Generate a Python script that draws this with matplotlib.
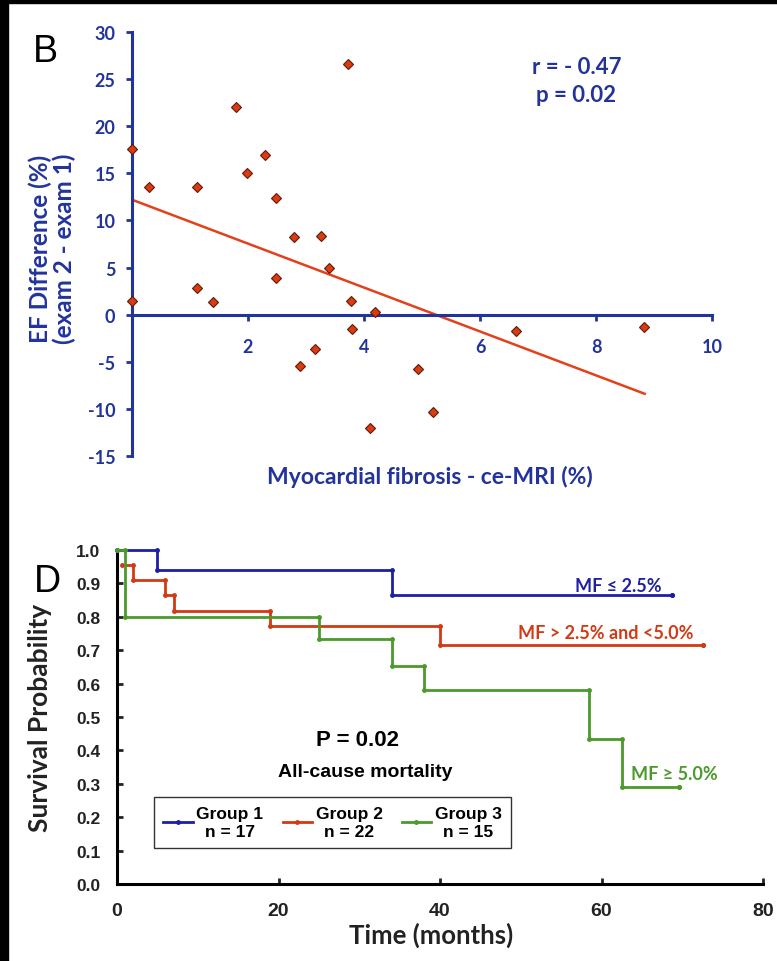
import matplotlib
matplotlib.use("Agg")
import matplotlib.pyplot as plt
from matplotlib.patches import Rectangle
from matplotlib.ticker import FormatStrFormatter

plt.rcParams["axes.unicode_minus"] = False

# panel B: change in EF vs myocardial fibrosis
fib_pct = [0.0, 0.29, 1.12, 1.79, 1.98, 2.29, 2.48, 3.72, 2.79, 3.26,
           0.0, 1.12, 1.40, 2.48, 3.40, 3.78, 4.19, 3.79, 2.90, 3.16, 4.10,
           4.93, 5.19, 6.62, 8.83]
ef_diff = [17.6, 13.5, 13.5, 22.0, 15.0, 16.9, 12.4, 26.6, 8.2, 8.4,
           1.4, 2.8, 1.3, 3.9, 5.0, 1.4, 0.3, -1.5, -5.4, -3.6, -12.0,
           -5.8, -10.3, -1.7, -1.3]
fit_x = [0.0, 8.84]
fit_y = [12.2, -8.4]
b_xticks = [2, 4, 6, 8, 10]
b_yticks = [-15, -10, -5, 0, 5, 10, 15, 20, 25, 30]

# panel D: Kaplan-Meier curves
g1_time = [0, 5, 34, 68.7]
g1_surv = [1.0, 0.941, 0.865, 0.865]
g2_time = [0.6, 2, 6, 7, 19, 40, 72.6]
g2_surv = [0.955, 0.909, 0.864, 0.818, 0.773, 0.716, 0.716]
g3_time = [0, 1, 25, 34, 38, 58.5, 62.5, 69.6]
g3_surv = [1.0, 0.80, 0.733, 0.653, 0.58, 0.435, 0.29, 0.29]
group_labels = ["Group 1\nn = 17", "Group 2\nn = 22", "Group 3\nn = 15"]
d_xticks = [0, 20, 40, 60, 80]
d_yticks = [0.0, 0.1, 0.2, 0.3, 0.4, 0.5, 0.6, 0.7, 0.8, 0.9, 1.0]

BLUE = "#22339c"
HUM = ["Lato", "DejaVu Sans"]
ARIAL = ["Liberation Sans", "DejaVu Sans"]


def km_path(t, s):
    xs, ys = [t[0]], [s[0]]
    for i in range(1, len(t)):
        xs += [t[i], t[i]]
        ys += [s[i - 1], s[i]]
    return xs, ys


W, H = 777, 962
fig = plt.figure(figsize=(W / 100, H / 100), dpi=100, facecolor="white")
# black frame strips of the scanned figure
fig.patches.append(Rectangle((0, 0), 7.5 / W, 1, transform=fig.transFigure, color="black"))
fig.patches.append(Rectangle((0, 1 - 4 / H), 1, 4 / H, transform=fig.transFigure, color="black"))

# ---------------- panel B ----------------
axB = fig.add_axes([132 / W, 1 - 457 / H, 580 / W, 424 / H])
axB.plot(fit_x, fit_y, color="#e2411c", lw=1.8, zorder=2)
axB.plot(fib_pct, ef_diff, ls="none", marker="D", ms=5.3, mfc="#dc3a10",
         mec="#5c1c0c", mew=0.8, zorder=3, clip_on=False)
axB.set_xlim(0, 10)
axB.set_ylim(-15, 30)
for side in ["top", "right"]:
    axB.spines[side].set_visible(False)
axB.spines["bottom"].set_position(("data", 0))
for side in ["left", "bottom"]:
    axB.spines[side].set_color(BLUE)
    axB.spines[side].set_linewidth(2.2)
axB.set_xticks(b_xticks)
axB.set_yticks(b_yticks)
axB.tick_params(axis="both", colors=BLUE, width=2, length=4, direction="out",
                labelsize=13)
axB.tick_params(axis="x", pad=13)
axB.tick_params(axis="y", pad=8)
for lab in axB.get_xticklabels() + axB.get_yticklabels():
    lab.set_family(HUM)
    lab.set_fontweight("bold")
axB.set_ylabel("EF Difference (%)\n(exam 2 - exam 1)", color=BLUE, fontsize=17.5,
               fontweight="bold", family=HUM, linespacing=1.0)
axB.yaxis.set_label_coords(-0.097, 0.49)
axB.set_xlabel("Myocardial fibrosis - ce-MRI (%)", color=BLUE, fontsize=16.5,
               fontweight="bold", family=HUM)
axB.xaxis.set_label_coords(0.514, -0.02)
axB.text(7.67, 26.3, "r = - 0.47", color=BLUE, fontsize=16, fontweight="bold",
         family=HUM, ha="center", va="center")
axB.text(7.66, 23.4, "p = 0.02", color=BLUE, fontsize=16, fontweight="bold",
         family=HUM, ha="center", va="center")
fig.text(45 / W, 1 - 52 / H, "B", fontsize=27, family=ARIAL, ha="center", va="center")

# ---------------- panel D ----------------
axD = fig.add_axes([117 / W, 1 - 885 / H, 646 / W, 334 / H])
colors = ["#1f1fa3", "#d23a14", "#4b9a2c"]
lines = []
for (t, s), c, lab in zip([(g1_time, g1_surv), (g2_time, g2_surv), (g3_time, g3_surv)],
                          colors, group_labels):
    xs, ys = km_path(t, s)
    ln, = axD.plot(xs, ys, color=c, lw=2, marker="o", ms=2.5, clip_on=False,
                   label=lab, zorder=3)
    lines.append(ln)
axD.set_xlim(0, 80)
axD.set_ylim(0, 1.0)
for side in ["top", "right"]:
    axD.spines[side].set_visible(False)
for side in ["left", "bottom"]:
    axD.spines[side].set_linewidth(2.2)
axD.set_xticks(d_xticks)
axD.set_yticks(d_yticks)
axD.yaxis.set_major_formatter(FormatStrFormatter("%.1f"))
axD.tick_params(axis="both", direction="in", width=2, length=4, colors="#222222")
axD.tick_params(axis="x", pad=13, labelsize=14)
axD.tick_params(axis="y", pad=12, labelsize=12.5)
for lab in axD.get_xticklabels() + axD.get_yticklabels():
    lab.set_family(ARIAL)
    lab.set_fontweight("bold")
axD.set_ylabel("Survival Probability", fontsize=19, fontweight="bold", family=HUM,
               color="#222222")
axD.yaxis.set_label_coords(-0.1, 0.5)
axD.set_xlabel("Time (months)", fontsize=18.5, fontweight="bold", family=HUM,
               color="#222222")
axD.xaxis.set_label_coords(0.487, -0.112)

axD.text(67.5, 0.895, "MF \u2264 2.5%", color=colors[0], fontsize=13,
         fontweight="bold", family=HUM, ha="right", va="center")
axD.text(71.4, 0.752, "MF > 2.5% and <5.0%", color=colors[1], fontsize=13,
         fontweight="bold", family=HUM, ha="right", va="center")
axD.text(63.6, 0.33, "MF \u2265 5.0%", color=colors[2], fontsize=13,
         fontweight="bold", family=HUM, ha="left", va="center")
axD.text(29.8, 0.434, "P = 0.02", fontsize=16, fontweight="bold", family=ARIAL,
         ha="center", va="center")
axD.text(30.7, 0.338, "All-cause mortality", fontsize=14, fontweight="bold",
         family=ARIAL, ha="center", va="center")

leg = axD.legend(handles=lines, ncol=3, loc="lower left",
                 bbox_to_anchor=(3.5 / 80, 0.081), frameon=True, fancybox=False,
                 edgecolor="black", handlelength=1.7, handletextpad=0.2,
                 columnspacing=1.1, borderpad=0.55,
                 prop={"family": ARIAL, "weight": "bold", "size": 12.5})
leg.get_frame().set_linewidth(1.0)
for txt in leg.get_texts():
    txt.set_multialignment("center")

fig.text(47 / W, 1 - 582 / H, "D", fontsize=27, family=ARIAL, ha="center", va="center")

fig.savefig("out.png", dpi=100, facecolor="white")
